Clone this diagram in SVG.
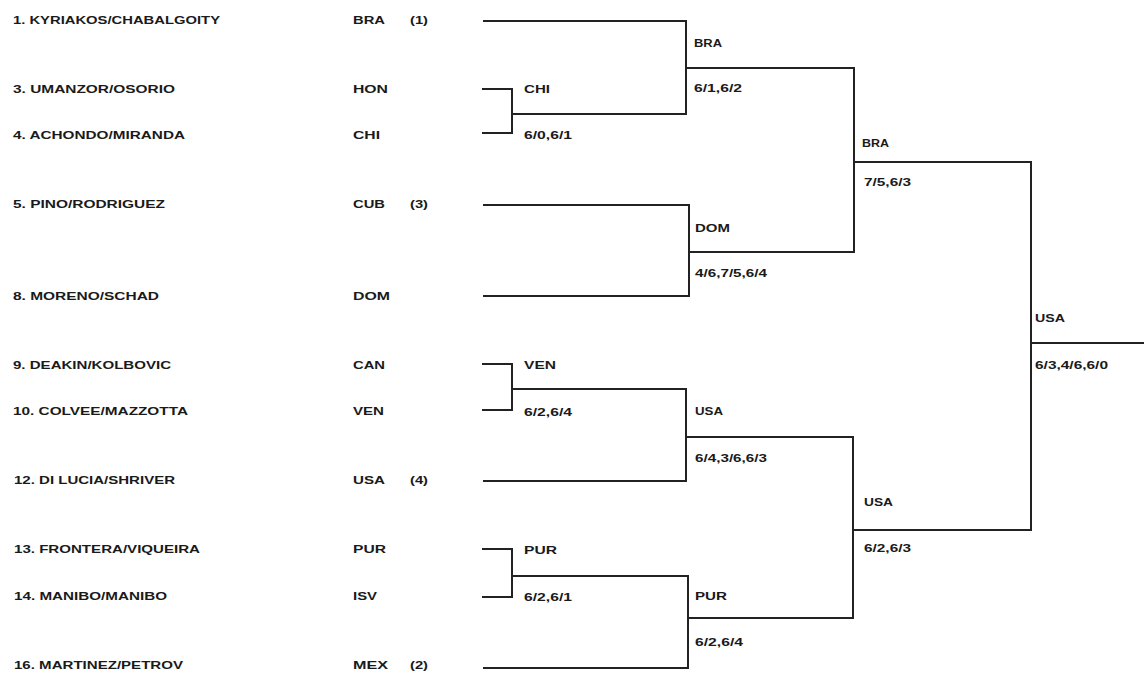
<svg xmlns="http://www.w3.org/2000/svg" width="1144" height="683" viewBox="0 0 1144 683">
<style>
text{font-family:"Liberation Sans",Arial,sans-serif;font-size:11px;font-weight:bold;fill:#1a1a1a;}
.ln{fill:none;stroke:#222;stroke-width:2;}
</style>
<rect width="1144" height="683" fill="#ffffff"/>
<g id="connectors">
<path class="ln" d="M483,21 H686 V114 H512"/>
<path class="ln" d="M482,89 H512 V133 H482"/>
<path class="ln" d="M686,68 H854 V252 H689"/>
<path class="ln" d="M483,205 H689 V296 H483"/>
<path class="ln" d="M854,162 H1031 V530 H853"/>
<path class="ln" d="M1031,343 H1144"/>
<path class="ln" d="M482,364 H512 V410 H482"/>
<path class="ln" d="M512,389 H686 V481 H483"/>
<path class="ln" d="M686,437 H853 V618 H688"/>
<path class="ln" d="M482,549 H512 V597 H482"/>
<path class="ln" d="M512,576 H688 V668 H483"/>
</g>
<g id="entry1"><text x="13" y="24" textLength="207" lengthAdjust="spacingAndGlyphs">1. KYRIAKOS/CHABALGOITY</text><text x="353" y="24" textLength="32" lengthAdjust="spacingAndGlyphs">BRA</text><text x="410" y="24" textLength="18" lengthAdjust="spacingAndGlyphs">(1)</text></g>
<g id="entry3"><text x="13" y="93" textLength="162" lengthAdjust="spacingAndGlyphs">3. UMANZOR/OSORIO</text><text x="353" y="93" textLength="35" lengthAdjust="spacingAndGlyphs">HON</text></g>
<g id="entry4"><text x="13" y="139" textLength="172" lengthAdjust="spacingAndGlyphs">4. ACHONDO/MIRANDA</text><text x="353" y="139" textLength="27" lengthAdjust="spacingAndGlyphs">CHI</text></g>
<g id="entry5"><text x="13" y="208" textLength="152" lengthAdjust="spacingAndGlyphs">5. PINO/RODRIGUEZ</text><text x="353" y="208" textLength="32" lengthAdjust="spacingAndGlyphs">CUB</text><text x="410" y="208" textLength="18" lengthAdjust="spacingAndGlyphs">(3)</text></g>
<g id="entry8"><text x="13" y="300" textLength="146" lengthAdjust="spacingAndGlyphs">8. MORENO/SCHAD</text><text x="353" y="300" textLength="37" lengthAdjust="spacingAndGlyphs">DOM</text></g>
<g id="entry9"><text x="13" y="369" textLength="158" lengthAdjust="spacingAndGlyphs">9. DEAKIN/KOLBOVIC</text><text x="353" y="369" textLength="32" lengthAdjust="spacingAndGlyphs">CAN</text></g>
<g id="entry10"><text x="13" y="415" textLength="175" lengthAdjust="spacingAndGlyphs">10. COLVEE/MAZZOTTA</text><text x="353" y="415" textLength="31" lengthAdjust="spacingAndGlyphs">VEN</text></g>
<g id="entry12"><text x="14" y="484" textLength="161" lengthAdjust="spacingAndGlyphs">12. DI LUCIA/SHRIVER</text><text x="353" y="484" textLength="32" lengthAdjust="spacingAndGlyphs">USA</text><text x="410" y="484" textLength="18" lengthAdjust="spacingAndGlyphs">(4)</text></g>
<g id="entry13"><text x="14" y="553" textLength="186" lengthAdjust="spacingAndGlyphs">13. FRONTERA/VIQUEIRA</text><text x="353" y="553" textLength="33" lengthAdjust="spacingAndGlyphs">PUR</text></g>
<g id="entry14"><text x="14" y="600" textLength="153" lengthAdjust="spacingAndGlyphs">14. MANIBO/MANIBO</text><text x="353" y="600" textLength="24" lengthAdjust="spacingAndGlyphs">ISV</text></g>
<g id="entry16"><text x="14" y="669" textLength="169" lengthAdjust="spacingAndGlyphs">16. MARTINEZ/PETROV</text><text x="353" y="669" textLength="35" lengthAdjust="spacingAndGlyphs">MEX</text><text x="410" y="669" textLength="18" lengthAdjust="spacingAndGlyphs">(2)</text></g>
<g id="r1-chi"><text x="524" y="93" textLength="26" lengthAdjust="spacingAndGlyphs">CHI</text><text x="524" y="139" textLength="48" lengthAdjust="spacingAndGlyphs">6/0,6/1</text></g>
<g id="r1-ven"><text x="524" y="369" textLength="32" lengthAdjust="spacingAndGlyphs">VEN</text><text x="524" y="416" textLength="48" lengthAdjust="spacingAndGlyphs">6/2,6/4</text></g>
<g id="r1-pur"><text x="524" y="554" textLength="33" lengthAdjust="spacingAndGlyphs">PUR</text><text x="524" y="601" textLength="48" lengthAdjust="spacingAndGlyphs">6/2,6/1</text></g>
<g id="r2-bra"><text x="694" y="47" textLength="28" lengthAdjust="spacingAndGlyphs">BRA</text><text x="694" y="92" textLength="48" lengthAdjust="spacingAndGlyphs">6/1,6/2</text></g>
<g id="r2-dom"><text x="695" y="232" textLength="35" lengthAdjust="spacingAndGlyphs">DOM</text><text x="695" y="277" textLength="72" lengthAdjust="spacingAndGlyphs">4/6,7/5,6/4</text></g>
<g id="r2-usa"><text x="695" y="415" textLength="28" lengthAdjust="spacingAndGlyphs">USA</text><text x="695" y="462" textLength="72" lengthAdjust="spacingAndGlyphs">6/4,3/6,6/3</text></g>
<g id="r2-pur"><text x="695" y="600" textLength="32" lengthAdjust="spacingAndGlyphs">PUR</text><text x="695" y="646" textLength="48" lengthAdjust="spacingAndGlyphs">6/2,6/4</text></g>
<g id="sf-bra"><text x="862" y="147" textLength="27" lengthAdjust="spacingAndGlyphs">BRA</text><text x="864" y="186" textLength="47" lengthAdjust="spacingAndGlyphs">7/5,6/3</text></g>
<g id="sf-usa"><text x="864" y="506" textLength="29" lengthAdjust="spacingAndGlyphs">USA</text><text x="864" y="552" textLength="47" lengthAdjust="spacingAndGlyphs">6/2,6/3</text></g>
<g id="final-usa"><text x="1035" y="322" textLength="30" lengthAdjust="spacingAndGlyphs">USA</text><text x="1035" y="369" textLength="73" lengthAdjust="spacingAndGlyphs">6/3,4/6,6/0</text></g>
</svg>
